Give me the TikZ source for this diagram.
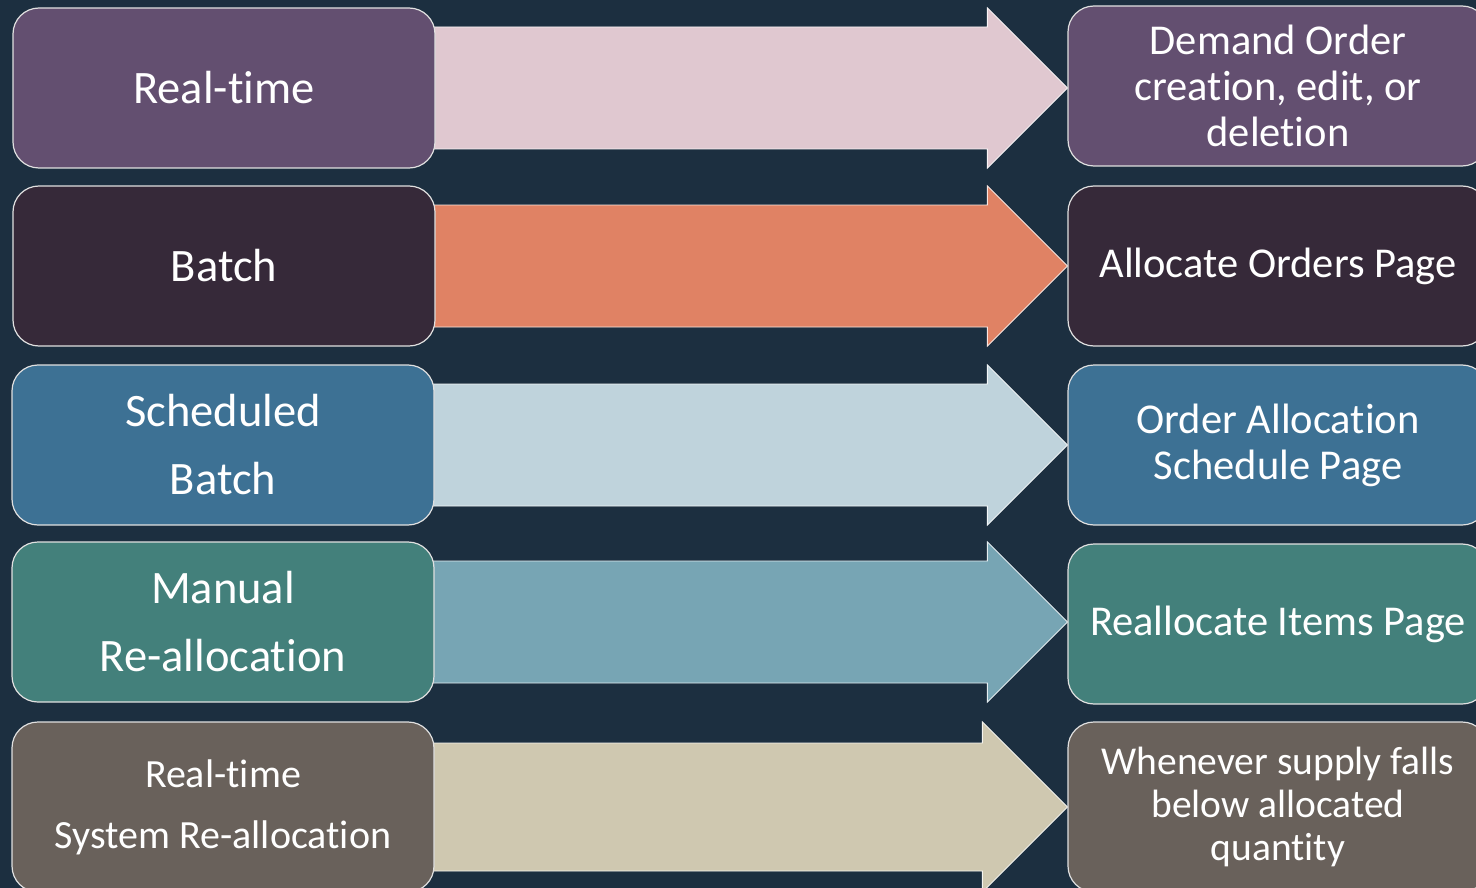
\documentclass[tikz,border=0pt]{standalone}
\usepackage{fontspec}
\setmainfont{Carlito}[Ligatures={NoCommon,NoContextual}]
\usetikzlibrary{calc}
\pgfdeclarelayer{bg}
\pgfsetlayers{bg,main}
\definecolor{bgc}{HTML}{1C2F40}
\definecolor{p1}{HTML}{634F70}
\definecolor{a1}{HTML}{E0C8D0}
\definecolor{p2}{HTML}{362939}
\definecolor{a2}{HTML}{E08264}
\definecolor{p3}{HTML}{3D7194}
\definecolor{a3}{HTML}{BFD3DC}
\definecolor{p4}{HTML}{43807B}
\definecolor{a4}{HTML}{77A5B4}
\definecolor{p5}{HTML}{69615B}
\definecolor{a5}{HTML}{CFC8B0}
\newcommand\bigfont{\fontsize{46.5}{68}\selectfont}
\newcommand\lastfont{\fontsize{40}{61}\selectfont}
\newcommand\rfont{\fontsize{42.5}{46}\selectfont}
\newcommand\rlastfont{\fontsize{39.5}{43}\selectfont}
\newcommand\rowarrow[6]{%
  \begin{pgfonlayer}{bg}
  \path[fill=#3, draw=white!80!#3, line width=0.9pt]
    let \p1=(#1.east), \p2=(#2.west) in
    (\x1-2pt,\y1+#4) -- (\x2-#6,\y1+#4) -- (\x2-#6,\y1+#5) -- (\x2,\y1)
    -- (\x2-#6,\y1-#5) -- (\x2-#6,\y1-#4) -- (\x1-2pt,\y1-#4) -- cycle;
  \end{pgfonlayer}}
\begin{document}
\begin{tikzpicture}[x=1pt,y=-1pt,
  boxbase/.style={draw=white!88!black, line width=1.2pt, rounded corners=26pt,
    text=white, align=center, inner sep=0pt},
  lbox/.style={boxbase, minimum width=422pt, minimum height=160pt},
  rbox/.style={boxbase, minimum width=420pt, minimum height=160pt}]
\useasboundingbox (0,0) rectangle (1476,888);
\begin{pgfonlayer}{bg}
\fill[bgc] (0,0) rectangle (1476,888);
\end{pgfonlayer}
\clip (0,0) rectangle (1476,888);
% left boxes
\node[lbox, fill=p1, font=\bigfont] (L1) at (224,88) {Real-time};
\node[lbox, fill=p2, font=\bigfont] (L2) at (224,266) {Batch};
\node[lbox, fill=p3, font=\bigfont] (L3) at (223,445) {Scheduled\\Batch};
\node[lbox, fill=p4, font=\bigfont] (L4) at (223,622) {Manual\\Re-allocation};
\node[lbox, fill=p5, font=\lastfont, minimum height=170pt] (L5) at (223,807) {Real-time\\System Re-allocation};
% right boxes
\node[rbox, fill=p1, font=\rfont] (R1) at (1278,86) {Demand Order\\creation, edit, or\\deletion};
\node[rbox, fill=p2, font=\rfont] (R2) at (1278,266) {Allocate Orders Page};
\node[rbox, fill=p3, font=\rfont] (R3) at (1278,445) {Order Allocation\\Schedule Page};
\node[rbox, fill=p4, font=\rfont] (R4) at (1278,624) {Reallocate Items Page};
\node[rbox, fill=p5, font=\rlastfont, minimum height=170pt] (R5) at (1278,807) {Whenever supply falls\\below allocated\\quantity};
% arrows
\rowarrow{L1}{R1}{a1}{61pt}{80pt}{80pt}
\rowarrow{L2}{R2}{a2}{61pt}{80pt}{80pt}
\rowarrow{L3}{R3}{a3}{61pt}{80pt}{80pt}
\rowarrow{L4}{R4}{a4}{61pt}{80pt}{80pt}
\rowarrow{L5}{R5}{a5}{64pt}{85pt}{85pt}
\end{tikzpicture}
\end{document}
